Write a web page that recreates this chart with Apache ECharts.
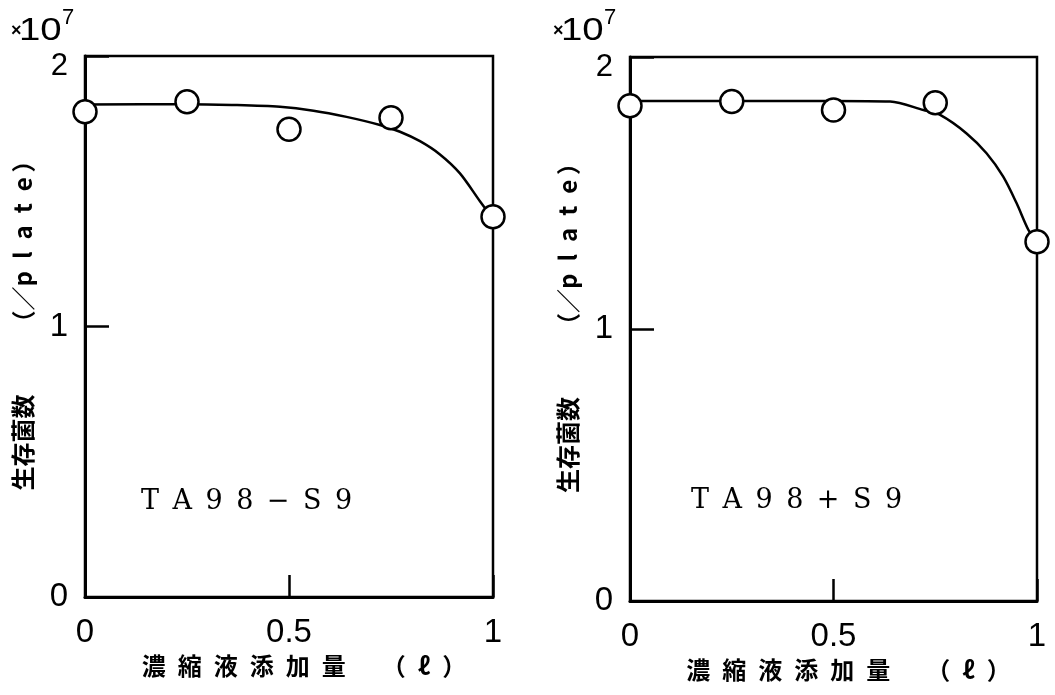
<!DOCTYPE html>
<html>
<head>
<meta charset="utf-8">
<title>生存菌数</title>
<script src="https://cdn.jsdelivr.net/npm/echarts@6/dist/echarts.min.js"></script>
<style>
  html, body { margin: 0; padding: 0; background: #fff; }
  #chart { width: 1055px; height: 695px; }
</style>
</head>
<body>
<div id="chart"></div>
<script>
// Concentrate dose (ℓ) at which colonies were counted
const dose = [0, 0.25, 0.5, 0.75, 1];
// Surviving colonies (×10^7 per plate)
const countMinusS9 = [1.794, 1.831, 1.729, 1.772, 1.406];
const countPlusS9 = [1.821, 1.836, 1.805, 1.832, 1.321];

// Hand-fitted trend curves
const fitMinusX = [0, 0.25, 0.36, 0.478, 0.56, 0.641, 0.723, 0.772, 0.821, 0.870, 0.919, 0.968, 1.0];
const fitMinusY = [1.821, 1.822, 1.819, 1.812, 1.798, 1.775, 1.745, 1.72, 1.685, 1.636, 1.566, 1.463, 1.398];
const fitPlusX = [0, 0.25, 0.5, 0.639, 0.721, 0.762, 0.827, 0.876, 0.917, 0.950, 0.979, 1.0];
const fitPlusY = [1.838, 1.838, 1.838, 1.836, 1.805, 1.787, 1.719, 1.646, 1.560, 1.462, 1.364, 1.32];

// Axis ticks
const xTickStep = 0.5;
const yTickStep = 1;
const xMax = 1;
const yMax = 2;

const panelLabels = ['T\u2002A\u20029\u20028\u2002\u2212\u2002S\u20029', 'T\u2002A\u20029\u20028\u2002+\u2002S\u20029'];
const yName = '生存菌数\u3000\u3000\u2002（／p\u2002l\u2002a\u2002t\u2002e\u2009）';
const xName = '濃\u2002縮\u2002液\u2002添\u2002加\u2002量\u3000\u2002（\u2002ℓ\u2002）';
const scaleText = ['×', '10', '7'];

const digitFont = 'Liberation Sans';
const cjkFont = '"Noto Sans CJK JP", "Noto Sans CJK SC", sans-serif';

const zip = (xs, ys) => xs.map((x, i) => [x, ys[i]]);

const grids = [
  { left: 85, top: 56, width: 408, height: 541 },
  { left: 630, top: 57, width: 407, height: 544 }
];

function xAxisFor(i) {
  return {
    gridIndex: i, type: 'value', min: 0, max: xMax, interval: xTickStep,
    axisLine: { show: true, onZero: false, lineStyle: { color: '#000', width: 3 } },
    axisTick: { show: true, inside: true, length: 22, lineStyle: { color: '#000', width: 2.5 } },
    axisLabel: { fontSize: 33, color: '#000', margin: 19, fontFamily: digitFont },
    splitLine: { show: false },
    name: xName, nameLocation: 'middle', nameGap: 55,
    nameTextStyle: { fontSize: 24, fontWeight: 'bold', color: '#000', fontFamily: cjkFont, padding: [0, 0, 0, 30] }
  };
}

function yAxisFor(i) {
  return {
    gridIndex: i, type: 'value', min: 0, max: yMax, interval: yTickStep,
    axisLine: { show: true, onZero: false, lineStyle: { color: '#000', width: 3 } },
    axisTick: { show: true, inside: true, length: 24, lineStyle: { color: '#000', width: 2.5 } },
    axisLabel: {
      fontSize: 33, color: '#000', margin: 17, fontFamily: digitFont,
      formatter: v => (v === yMax ? '{t|' + v + '}' : String(v)),
      rich: { t: { fontSize: 31, color: '#000', fontFamily: digitFont, padding: [20, 0, 0, 0] } }
    },
    splitLine: { show: false },
    name: yName, nameLocation: 'middle', nameGap: 50, nameRotate: 90,
    nameTextStyle: { fontSize: 24, fontWeight: 'bold', color: '#000', fontFamily: cjkFont, padding: [0, 0, 0, 14] }
  };
}

function curveSeries(i, xs, ys) {
  return {
    type: 'line', xAxisIndex: i, yAxisIndex: i, data: zip(xs, ys),
    smooth: 0.3, symbol: 'none', clip: false, z: 3,
    lineStyle: { color: '#000', width: 2.5 }
  };
}

function pointSeries(i, ys) {
  return {
    type: 'scatter', xAxisIndex: i, yAxisIndex: i, data: zip(dose, ys),
    symbol: 'circle', symbolSize: 23, clip: false, z: 5,
    itemStyle: { color: '#fff', borderColor: '#000', borderWidth: 2.5, opacity: 1 }
  };
}

// "×10^7" multiplier above each y axis
function scaleMark(x) {
  return [
    { type: 'text', style: { x: x, y: 31, text: scaleText[0], fontSize: 18, fontWeight: 'bold', fill: '#000', fontFamily: digitFont, verticalAlign: 'middle' } },
    { type: 'text', x: x + 8, y: 31, scaleX: 1.2, style: { x: 0, y: 0, text: scaleText[1], fontSize: 32, fill: '#000', fontFamily: digitFont, verticalAlign: 'middle' } },
    { type: 'text', style: { x: x + 51, y: 18, text: scaleText[2], fontSize: 22, fill: '#000', fontFamily: digitFont, verticalAlign: 'middle' } }
  ];
}

const chart = echarts.init(document.getElementById('chart'), null, { renderer: 'canvas' });
chart.setOption({
  animation: false,
  backgroundColor: '#fff',
  grid: grids.map(g => Object.assign({ show: true, borderColor: '#000', borderWidth: 2.5, backgroundColor: 'transparent' }, g)),
  xAxis: [xAxisFor(0), xAxisFor(1)],
  yAxis: [yAxisFor(0), yAxisFor(1)],
  series: [
    curveSeries(0, fitMinusX, fitMinusY),
    pointSeries(0, countMinusS9),
    curveSeries(1, fitPlusX, fitPlusY),
    pointSeries(1, countPlusS9)
  ],
  graphic: [
    ...scaleMark(11),
    ...scaleMark(553),
    { type: 'text', style: { x: 141, y: 502, text: panelLabels[0], fontSize: 27, fill: '#000', fontFamily: 'DejaVu Serif', verticalAlign: 'middle' } },
    { type: 'text', style: { x: 691, y: 501, text: panelLabels[1], fontSize: 27, fill: '#000', fontFamily: 'DejaVu Serif', verticalAlign: 'middle' } }
  ]
});
</script>
</body>
</html>
